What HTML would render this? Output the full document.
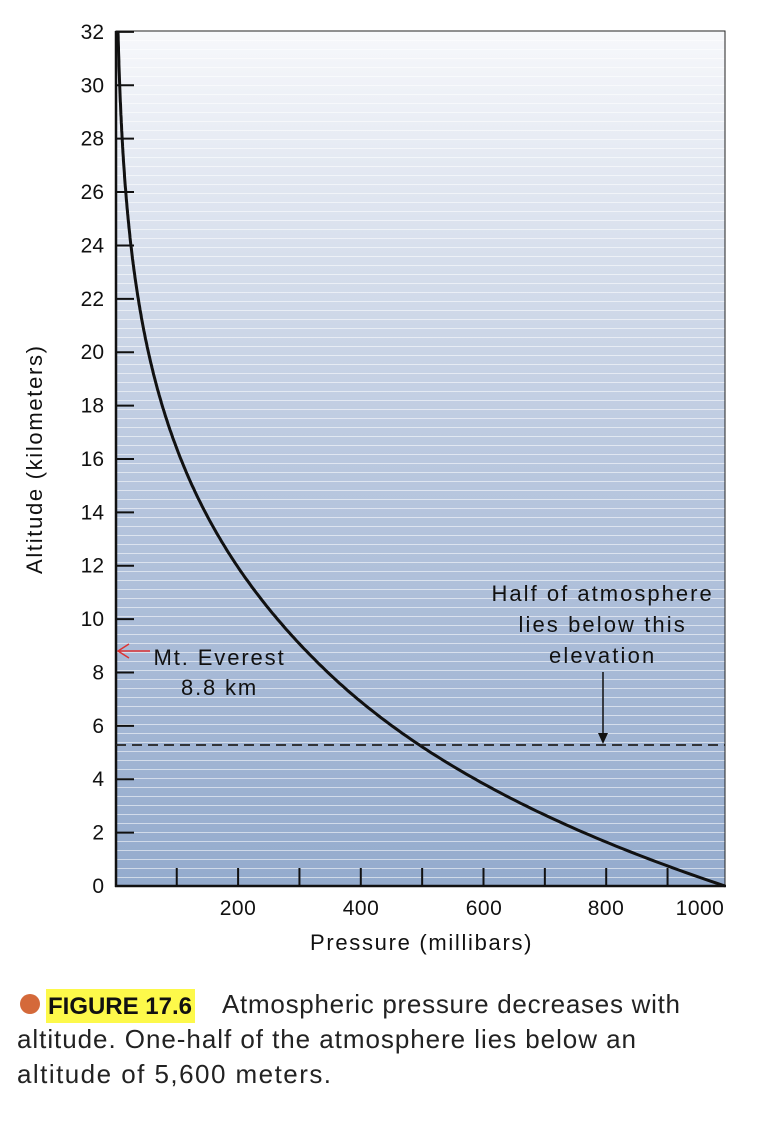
<!DOCTYPE html>
<html><head><meta charset="utf-8"><style>
body{margin:0;background:#fff;width:758px;height:1124px;overflow:hidden;font-family:"Liberation Sans",sans-serif}
</style></head><body>
<svg width="758" height="1124" xmlns="http://www.w3.org/2000/svg" font-family="Liberation Sans, sans-serif">
<defs>
<linearGradient id="g" x1="0" y1="0" x2="0" y2="1">
<stop offset="0" stop-color="#f7f8fb"/><stop offset="0.5" stop-color="#bac8df"/><stop offset="1" stop-color="#94abcd"/>
</linearGradient>
<pattern id="st" width="10" height="9" patternUnits="userSpaceOnUse" y="31">
<rect x="0" y="0" width="10" height="1" fill="#ffffff" opacity="0.55"/>
</pattern>
</defs>
<rect x="116" y="31" width="609" height="855" fill="url(#g)"/>
<rect x="116" y="31" width="609" height="855" fill="url(#st)"/>
<rect x="116" y="31" width="609" height="855" fill="none" stroke="#222" stroke-width="1"/>
<line x1="116" y1="31" x2="116" y2="887" stroke="#111" stroke-width="2.5"/>
<line x1="115" y1="886" x2="726" y2="886" stroke="#111" stroke-width="2.5"/>
<g id="yt" stroke="#111" stroke-width="2"></g>
<g id="xt" stroke="#111" stroke-width="2"></g>
<g id="yl" font-size="21" fill="#111" text-anchor="end"></g>
<g font-size="21" fill="#111" text-anchor="middle" letter-spacing="0.5">
<text x="238" y="915">200</text><text x="361" y="915">400</text><text x="484" y="915">600</text><text x="606" y="915">800</text><text x="700" y="915">1000</text>
<text x="421" y="950" font-size="22" textLength="222">Pressure (millibars)</text>
</g>
<text transform="translate(42,460) rotate(-90)" font-size="22" fill="#111" text-anchor="middle" textLength="228">Altitude (kilometers)</text>
<path id="curve" d="" fill="none" stroke="#111" stroke-width="3"/>
<line x1="116" y1="745" x2="725" y2="745" stroke="#222" stroke-width="1.8" stroke-dasharray="10,6"/>
<line x1="603" y1="672" x2="603" y2="736" stroke="#111" stroke-width="1.5"/>
<polygon points="598,733 608,733 603,744" fill="#111"/>
<g font-size="22" fill="#111" text-anchor="middle" letter-spacing="0.8">
<text x="602" y="601" textLength="221">Half of atmosphere</text>
<text x="602" y="632" textLength="167">lies below this</text>
<text x="602" y="663" textLength="106">elevation</text>
<text x="219" y="665" textLength="131">Mt. Everest</text>
<text x="219" y="695" textLength="76">8.8 km</text>
</g>
<line x1="118" y1="651" x2="150" y2="651" stroke="#d33" stroke-width="1.5"/>
<polyline points="129,644 118,651 129,658" fill="none" stroke="#d33" stroke-width="1.5"/>
<circle cx="30" cy="1004" r="10" fill="#d4693a"/>
<rect x="46" y="989" width="149" height="34" fill="#fdf94a"/>
<text x="48" y="1014" font-size="24" font-weight="bold" fill="#111" textLength="144">FIGURE 17.6</text>
<g font-size="26" fill="#222">
<text x="222" y="1013" textLength="458">Atmospheric pressure decreases with</text>
<text x="17" y="1048" textLength="619">altitude. One-half of the atmosphere lies below an</text>
<text x="17" y="1083" textLength="314">altitude of 5,600 meters.</text>
</g>
</svg>
<script>
var ns="http://www.w3.org/2000/svg";
function Y(h){return 886-h*26.69;}
function X(p){return 115.4+p*0.6135;}
var yt=document.getElementById('yt'),yl=document.getElementById('yl'),xt=document.getElementById('xt');
for(var h=0;h<=32;h+=2){var l=document.createElementNS(ns,'line');l.setAttribute('x1',116);l.setAttribute('x2',134);l.setAttribute('y1',Y(h));l.setAttribute('y2',Y(h));yt.appendChild(l);
var t=document.createElementNS(ns,'text');t.setAttribute('x',104);t.setAttribute('y',Y(h)+7);t.textContent=h;yl.appendChild(t);}
for(var p=100;p<=900;p+=100){var l=document.createElementNS(ns,'line');l.setAttribute('x1',X(p));l.setAttribute('x2',X(p));l.setAttribute('y1',868);l.setAttribute('y2',886);xt.appendChild(l);}
var d='';
for(var h=0;h<=32.001;h+=0.1){var k=Math.max(0,h-8);var L=h/7.6+0.0019*k*k;var x=115+610*Math.exp(-L);
d+=(h?'L':'M')+x.toFixed(1)+','+Y(h).toFixed(1);}
document.getElementById('curve').setAttribute('d',d);
</script>
</body></html>
